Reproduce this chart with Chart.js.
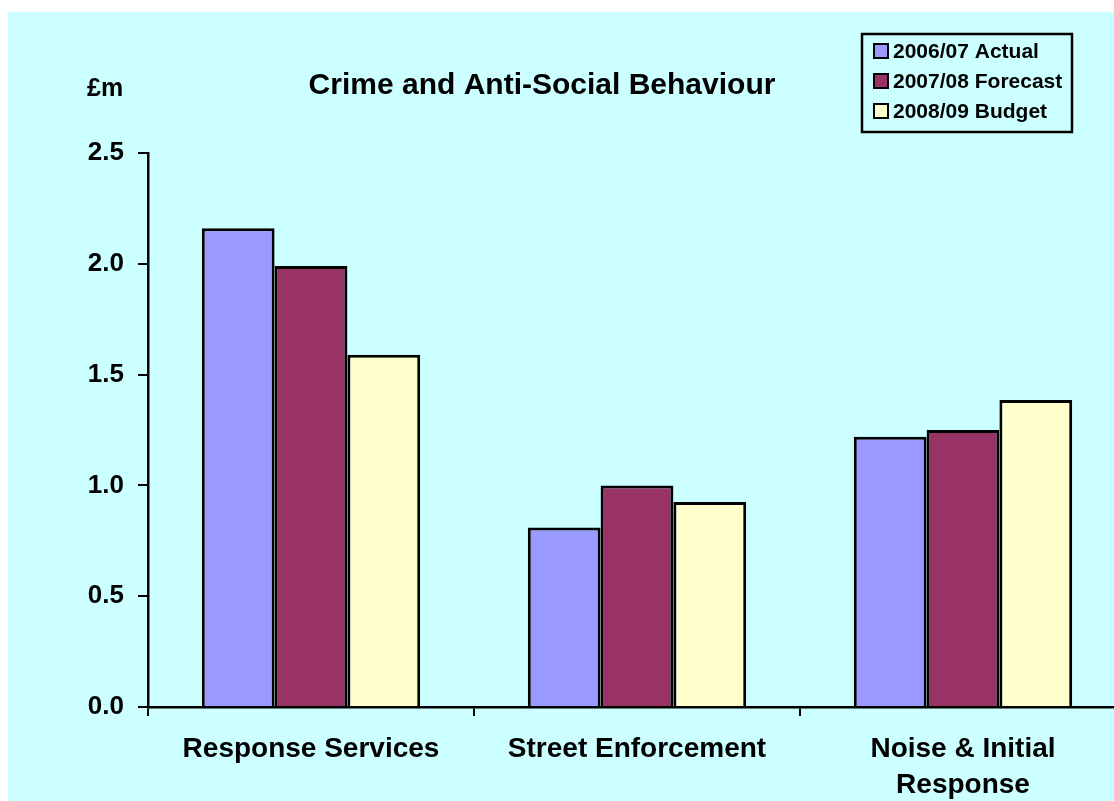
<!DOCTYPE html>
<html>
<head>
<meta charset="utf-8">
<script src="https://cdn.jsdelivr.net/npm/chart.js@4"></script>
<style>
  html, body { margin: 0; padding: 0; background: #fff; overflow: hidden; }
  #wrap { position: absolute; left: 8px; top: 12px; width: 1122px; height: 789px; background: #ccffff; }
</style>
</head>
<body>
<div id="wrap"><canvas id="grafico" width="1122" height="789"></canvas></div>
<script>
const categorias = ['Response Services', 'Street Enforcement', ['Noise & Initial', 'Response']];
const actual0607 = [2.16, 0.81, 1.22];
const forecast0708 = [1.99, 1.0, 1.25];
const budget0809 = [1.59, 0.925, 1.385];
const seriesNames = ['2006/07 Actual', '2007/08 Forecast', '2008/09 Budget'];
const colores = ['#9999ff', '#993366', '#ffffcc'];
const yTicks = [0, 0.5, 1.0, 1.5, 2.0, 2.5];

const FONT = '"Liberation Sans", Arial, sans-serif';

// titulo, unidad y leyenda con borde
const extras = {
    id: 'extras',
    afterDraw(chart) {
        const c = chart.ctx;
        c.save();
        c.fillStyle = '#000';
        c.textBaseline = 'alphabetic';
        c.font = 'bold 30px ' + FONT;
        c.textAlign = 'center';
        c.fillText('Crime and Anti-Social Behaviour', 534, 82);
        c.font = 'bold 25px ' + FONT;
        c.textAlign = 'left';
        c.fillText('£m', 79, 84);

        // leyenda
        c.lineWidth = 2.5;
        c.strokeStyle = '#000';
        c.strokeRect(854, 22, 210, 98);
        c.font = 'bold 21px ' + FONT;
        c.textBaseline = 'middle';
        c.lineWidth = 2;
        chart.data.datasets.forEach((ds, i) => {
            const y = 39 + i * 30;
            c.fillStyle = ds.backgroundColor;
            c.fillRect(866, y - 7, 14, 14);
            c.strokeRect(866, y - 7, 14, 14);
            c.fillStyle = '#000';
            c.fillText(ds.label, 885, y + 1);
        });
        c.restore();
    }
};

const ctx = document.getElementById('grafico').getContext('2d');
const chart = new Chart(ctx, {
    type: 'bar',
    data: {
        labels: categorias,
        datasets: [actual0607, forecast0708, budget0809].map((d, i) => ({
            label: seriesNames[i],
            data: d,
            backgroundColor: colores[i],
            borderColor: '#000',
            borderWidth: 3,
            categoryPercentage: 0.67,
            barPercentage: 1.0
        }))
    },
    options: {
        responsive: false,
        animation: false,
        layout: { padding: { left: 0, top: 141, right: 4, bottom: 0 } },
        plugins: {
            legend: { display: false },
            title: { display: false },
            tooltip: { enabled: false }
        },
        scales: {
            x: {
                offset: true,
                afterFit(s) { s.height = 94; },
                border: { display: true, color: '#000', width: 2.5 },
                grid: { offset: true, drawOnChartArea: false, drawTicks: true, tickLength: 9, color: '#000', lineWidth: 2 },
                ticks: {
                    color: '#000',
                    padding: 15,
                    maxRotation: 0,
                    autoSkip: false,
                    font: { family: FONT, size: 28, weight: 'bold', lineHeight: 1.29 }
                }
            },
            y: {
                min: 0,
                max: 2.5,
                afterFit(s) { s.width = 140; },
                afterBuildTicks(s) { s.ticks = yTicks.map(v => ({ value: v })); },
                border: { display: true, color: '#000', width: 2.5 },
                grid: { drawOnChartArea: false, drawTicks: true, tickLength: 10, color: '#000', lineWidth: 2 },
                ticks: {
                    color: '#000',
                    padding: 14,
                    font: { family: FONT, size: 26, weight: 'bold' },
                    callback: v => Number(v).toFixed(1)
                }
            }
        }
    },
    plugins: [extras]
});
</script>
</body>
</html>
